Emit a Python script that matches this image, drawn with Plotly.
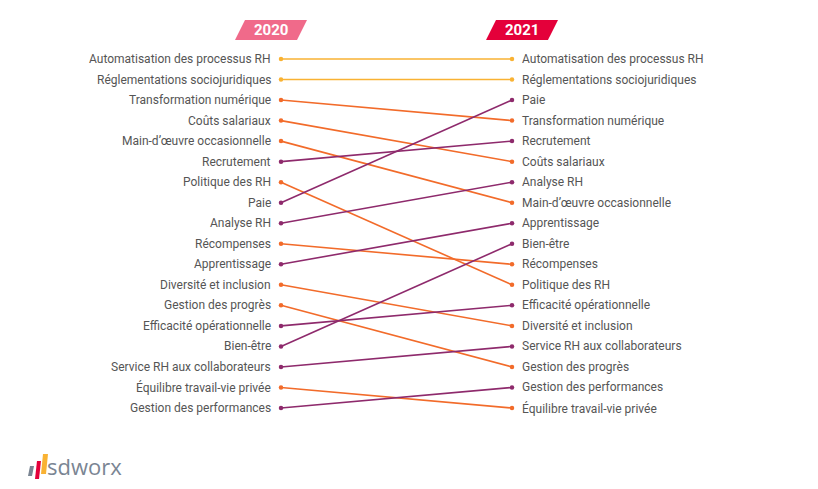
import plotly.graph_objects as go

# HR priorities ranking, 2020 vs 2021
rank_2020 = [
    "Automatisation des processus RH", "Réglementations sociojuridiques",
    "Transformation numérique", "Coûts salariaux", "Main-d’œuvre occasionnelle",
    "Recrutement", "Politique des RH", "Paie", "Analyse RH", "Récompenses",
    "Apprentissage", "Diversité et inclusion", "Gestion des progrès",
    "Efficacité opérationnelle", "Bien-être", "Service RH aux collaborateurs",
    "Équilibre travail-vie privée", "Gestion des performances",
]
rank_2021 = [
    "Automatisation des processus RH", "Réglementations sociojuridiques", "Paie",
    "Transformation numérique", "Recrutement", "Coûts salariaux", "Analyse RH",
    "Main-d’œuvre occasionnelle", "Apprentissage", "Bien-être", "Récompenses",
    "Politique des RH", "Efficacité opérationnelle", "Diversité et inclusion",
    "Service RH aux collaborateurs", "Gestion des progrès",
    "Gestion des performances", "Équilibre travail-vie privée",
]
years = ["2020", "2021"]

YELLOW, ORANGE, PURPLE = "#F9B233", "#F26B2A", "#8E2A6C"
W, H = 818, 489
OFF = 8  # page body margin

def px(x):
    return (x - OFF) / W

def py(y):
    return 1 - (y - OFF) / H

fig = go.Figure()
for i, name in enumerate(rank_2020):
    r0, r1 = i + 1, rank_2021.index(name) + 1
    col = YELLOW if r0 == r1 else (PURPLE if r1 < r0 else ORANGE)
    fig.add_trace(go.Scatter(x=[0, 1], y=[r0, r1], mode="lines+markers",
                             line=dict(color=col, width=1.6),
                             marker=dict(color=col, size=4.5),
                             hoverinfo="skip", showlegend=False))

for i, name in enumerate(rank_2020):
    fig.add_annotation(x=0, y=i + 1, text=name, xanchor="right", xshift=-8,
                       showarrow=False, font=dict(size=12, color="#555"))
for i, name in enumerate(rank_2021):
    fig.add_annotation(x=1, y=i + 1, text=name, xanchor="left", xshift=8,
                       showarrow=False, font=dict(size=12, color="#555"))

# year header badges (parallelograms)
def badge(cx, color, label):
    x0, x1, y0, y1, sk = cx - 31, cx + 31, 20, 40, 5
    pts = [(x0 + sk, y0), (x1 + sk, y0), (x1 - sk, y1), (x0 - sk, y1)]
    path = "M " + " L ".join(f"{px(x):.4f},{py(y):.4f}" for x, y in pts) + " Z"
    fig.add_shape(type="path", path=path, xref="paper", yref="paper", layer="below",
                  fillcolor=color, line=dict(width=0))
    fig.add_annotation(x=px(cx), y=py(30), xref="paper", yref="paper",
                       xanchor="center", yanchor="middle",
                       text=f"<b>{label}</b>", showarrow=False,
                       font=dict(size=15, color="white"))

badge(271, "#F06A8A", years[0])
badge(522, "#E4003A", years[1])

# logo
for (x0, x1, yt, yb, c) in [(28, 32, 466, 476, "#7A8593"), (35, 39, 461, 479, "#E4003A"), (41, 46, 454, 474, "#F9B233")]:
    fig.add_shape(type="path", xref="paper", yref="paper", fillcolor=c, line=dict(width=0),
                  path=f"M {px(x0+2)},{py(yt)} L {px(x1+2)},{py(yt)} L {px(x1)},{py(yb)} L {px(x0)},{py(yb)} Z")
fig.add_annotation(x=px(45), y=py(466), xref="paper", yref="paper",
                   xanchor="left", yanchor="middle",
                   text="sdworx", showarrow=False,
                   font=dict(size=22, color="#7A8593", family="Open Sans"))

step = (408 - 59) / 17
fig.update_layout(
    width=W, height=H, margin=dict(l=0, r=0, t=0, b=0),
    plot_bgcolor="white", paper_bgcolor="white",
    font=dict(family="Roboto, Arial, sans-serif"),
    xaxis=dict(range=[-(281 - OFF) / 231, (W - 281 + OFF) / 231], visible=False, fixedrange=True),
    yaxis=dict(range=[1 + (H - 59 + OFF) / step, 1 - (59 - OFF) / step], visible=False, fixedrange=True),
)
fig.write_html("out.html")
